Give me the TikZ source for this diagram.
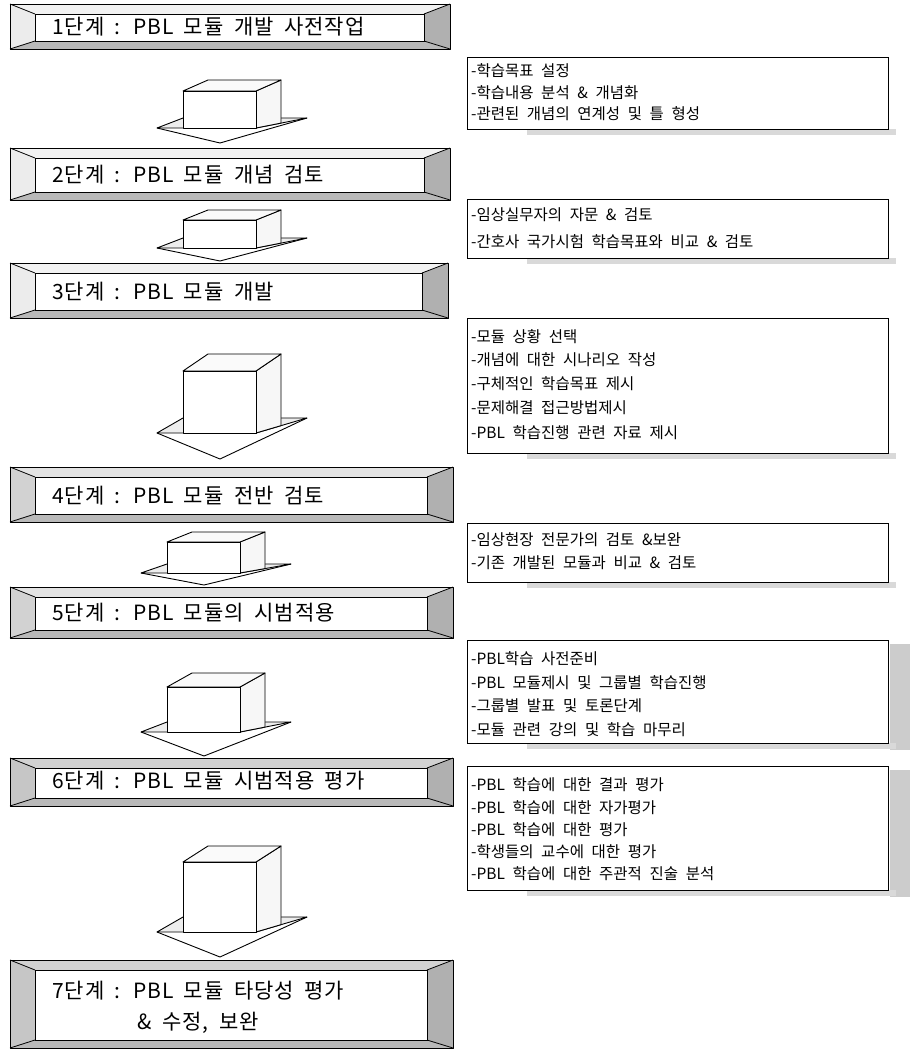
\documentclass[tikz,border=0pt]{standalone}
\usepackage{fontspec}
\setmainfont{Noto Sans CJK KR}
\newfontfamily\stagefont[LetterSpace=5,WordSpace=1.8]{Noto Sans CJK KR}
\newfontfamily\listfont[WordSpace=2.2]{Noto Sans CJK KR}
\usetikzlibrary{calc}
\tikzset{
  stagetext/.style={anchor=west, inner sep=0pt, font=\stagefont\fontsize{21}{31}\selectfont},
  listtext/.style={anchor=west, inner sep=0pt, font=\listfont\fontsize{15.5}{18}\selectfont},
  listbox/.style={draw=black, line width=0.9pt, fill=white, inner sep=0pt},
  edge/.style={draw=black, line width=0.8pt, line join=round},
  arrowface/.style={fill=white, draw=black, line width=0.9pt, line join=round},
}
\newcommand\stagebox[7]{% name, x0, y0, x3, y3, topfill, leftfill
  \fill[#6] (#2,#3) -- (#4,#3) -- ({#4-26},{#3+10}) -- ({#2+25},{#3+10}) -- cycle;
  \fill[#7] (#2,#3) -- ({#2+25},{#3+10}) -- ({#2+25},{#5-8}) -- (#2,#5) -- cycle;
  \fill[gray!55] (#2,#5) -- ({#2+25},{#5-8}) -- ({#4-26},{#5-8}) -- (#4,#5) -- cycle;
  \fill[gray!62] (#4,#3) -- ({#4-26},{#3+10}) -- ({#4-26},{#5-8}) -- (#4,#5) -- cycle;
  \draw[edge] (#2,#3) rectangle (#4,#5);
  \draw[edge] (#2,#3) -- ({#2+25},{#3+10}) (#2,#5) -- ({#2+25},{#5-8})
              (#4,#3) -- ({#4-26},{#3+10}) (#4,#5) -- ({#4-26},{#5-8});
  \node[draw=black, line width=1.2pt, fill=white, inner sep=0pt, anchor=north west,
        minimum width={(#4-26)-(#2+25)}, minimum height={(#5-8)-(#3+10)}]
        (#1) at ({#2+25},{#3+10}) {};
}
% name, x1 (shaft left), yt (front top), dyt, yb (shaft bottom), dyb, apex y
\newcommand\blockarrow[7]{%
  \coordinate (#1L) at ({#2-26},#5);
  \coordinate (#1A) at ({#2+37},#7);
  \coordinate (#1R) at ({#2+124},{#5-#6});
  \coordinate (#1F) at (#2,{#5-#6});
  \coordinate (#1B) at ({#2+98},{#5-#6});
  \coordinate (#1S) at ({#2+98},{#5-#6*25/51});
  \fill[white] (#1L) -- (#1A) -- (#1R) -- (#1B) -- (#1F) -- cycle;
  \filldraw[fill=gray!14, draw=black, line width=0.9pt, line join=round]
    (#1F) -- (#1L) -- (#2,#5);
  \filldraw[fill=gray!14, draw=black, line width=0.9pt, line join=round]
    ({#2+73},#5) -- (#1R) -- (#1B);
  \draw[arrowface, fill=none] (#1L) -- (#1A) -- (#1R);
  \draw[arrowface, fill=gray!6] ({#2+73},#3) -- ({#2+98},{#3-#4}) -- (#1S) -- ({#2+73},#5) -- cycle;
  \draw[arrowface, fill=gray!4] (#2,#3) -- ({#2+25},{#3-#4}) -- ({#2+98},{#3-#4}) -- ({#2+73},#3) -- cycle;
  \draw[arrowface] (#2,#3) rectangle ({#2+73},#5);
}
\newcommand\listshadow[4]{% x0 y0 x1 y1
  \fill[gray!30] ({#1+60},#4) rectangle ({#3+8},{#4+6});
}
\begin{document}
\begin{tikzpicture}[x=1pt,y=-1pt]
\useasboundingbox (0,0) rectangle (910,1050);
\fill[white] (0,0) rectangle (910,1050);

% stage boxes
\stagebox{s1}{10}{4}{450}{49}{gray!10}{gray!15}
\node[stagetext] (s1t) at (52,27) {1단계 : PBL 모듈 개발 사전작업};
\stagebox{s2}{10}{148}{450}{200}{gray!10}{gray!15}
\node[stagetext] (s2t) at (52,175) {2단계 : PBL 모듈 개념 검토};
\stagebox{s3}{10}{263}{448}{318}{gray!10}{gray!15}
\node[stagetext] (s3t) at (52,292) {3단계 : PBL 모듈 개발};
\stagebox{s4}{10}{467}{453}{522}{gray!22}{gray!35}
\node[stagetext] (s4t) at (52,496) {4단계 : PBL 모듈 전반 검토};
\stagebox{s5}{10}{587}{453}{638}{gray!22}{gray!35}
\node[stagetext] (s5t) at (52,613) {5단계 : PBL 모듈의 시범적용};
\stagebox{s6}{10}{758}{453}{806}{gray!35}{gray!45}
\node[stagetext] (s6t) at (52,781) {6단계 : PBL 모듈 시범적용 평가};
\stagebox{s7}{10}{960}{453}{1048}{gray!35}{gray!45}
\node[stagetext, align=center] (s7t) at (52,1007)
  {7단계 : PBL 모듈 타당성 평가\\\& 수정, 보완};

% block arrows
\blockarrow{a1}{183}{91}{11}{128}{10}{143}
\blockarrow{a2}{183}{220}{10}{248}{10}{261}
\blockarrow{a3}{183}{371}{17}{433}{15}{459}
\blockarrow{a4}{167}{542}{10}{573}{9}{585}
\blockarrow{a5}{167}{687}{14}{732}{10}{756}
\blockarrow{a6}{183}{862}{16}{932}{15}{957}

% list boxes
\listshadow{467}{57}{888}{129}
\draw[listbox] (467,57) rectangle (888,129);
\node[listtext] (b1a) at (471,71) {-학습목표 설정};
\node[listtext] (b1b) at (471,93) {-학습내용 분석 \& 개념화};
\node[listtext] (b1c) at (471,114) {-관련된 개념의 연계성 및 틀 형성};

\listshadow{467}{199}{888}{258}
\draw[listbox] (467,199) rectangle (888,258);
\node[listtext] (b2a) at (471,215) {-임상실무자의 자문 \& 검토};
\node[listtext] (b2b) at (471,242) {-간호사 국가시험 학습목표와 비교 \& 검토};

\listshadow{467}{318}{888}{453}
\draw[listbox] (467,318) rectangle (888,453);
\node[listtext] (b3a) at (471,337) {-모듈 상황 선택};
\node[listtext] (b3b) at (471,360) {-개념에 대한 시나리오 작성};
\node[listtext] (b3c) at (471,384) {-구체적인 학습목표 제시};
\node[listtext] (b3d) at (471,408) {-문제해결 접근방법제시};
\node[listtext] (b3e) at (471,433) {-PBL 학습진행 관련 자료 제시};

\listshadow{467}{523}{888}{582}
\draw[listbox] (467,523) rectangle (888,582);
\node[listtext] (b4a) at (471,540) {-임상현장 전문가의 검토 \&보완};
\node[listtext] (b4b) at (471,563) {-기존 개발된 모듈과 비교 \& 검토};

\fill[gray!40] (890,644) rectangle (910,750);
\listshadow{467}{640}{888}{743}
\draw[listbox] (467,640) rectangle (888,743);
\node[listtext] (b5a) at (471,659) {-PBL학습 사전준비};
\node[listtext] (b5b) at (471,683) {-PBL 모듈제시 및 그룹별 학습진행};
\node[listtext] (b5c) at (471,706) {-그룹별 발표 및 토론단계};
\node[listtext] (b5d) at (471,730) {-모듈 관련 강의 및 학습 마무리};

\fill[gray!40] (890,770) rectangle (910,897);
\listshadow{467}{766}{888}{890}
\draw[listbox] (467,766) rectangle (888,890);
\node[listtext] (b6a) at (471,785) {-PBL 학습에 대한 결과 평가};
\node[listtext] (b6b) at (471,808) {-PBL 학습에 대한 자가평가};
\node[listtext] (b6c) at (471,830) {-PBL 학습에 대한 평가};
\node[listtext] (b6d) at (471,852) {-학생들의 교수에 대한 평가};
\node[listtext] (b6e) at (471,874) {-PBL 학습에 대한 주관적 진술 분석};
\end{tikzpicture}
\end{document}
